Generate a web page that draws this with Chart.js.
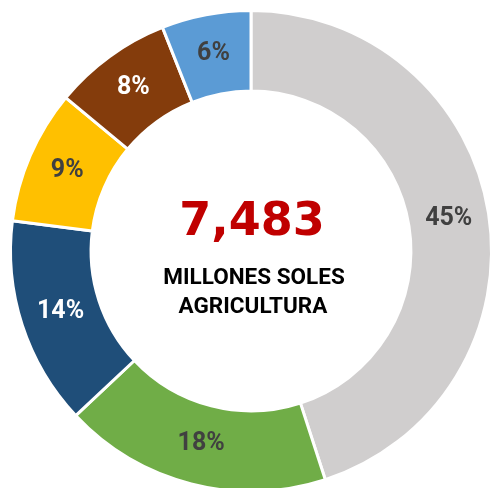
<!DOCTYPE html>
<html>
<head>
<meta charset="utf-8">
<script src="https://cdn.jsdelivr.net/npm/chart.js@4/dist/chart.umd.min.js"></script>
<style>
  html, body { margin: 0; padding: 0; background: #fff; overflow: hidden; }
  #wrap { position: absolute; left: 0; top: 0; width: 502px; height: 502px; }
</style>
</head>
<body>
<div id="wrap"><canvas id="cAgro" width="502" height="502"></canvas></div>
<script>
  // ---- shares of agricultural output (%) ----
  var SHARES = [45, 18, 14, 9, 8, 6];
  var SLICE_COLORS = ["#D0CECE", "#70AD47", "#1F4E79", "#FFC000", "#843C0C", "#5B9BD5"];
  var LABEL_COLORS = ["#404040", "#404040", "#FFFFFF", "#404040", "#FFFFFF", "#404040"];
  var TOTAL = "7,483";
  var CENTER_LINES = ["MILLONES SOLES", "AGRICULTURA"];

  // percent labels in the middle of each ring segment
  var sliceLabels = {
    id: "sliceLabels",
    afterDatasetsDraw: function (chart) {
      var ctx = chart.ctx;
      var meta = chart.getDatasetMeta(0);
      ctx.save();
      ctx.font = "bold 25px Roboto, 'Open Sans', sans-serif";
      ctx.textAlign = "center";
      ctx.textBaseline = "middle";
      meta.data.forEach(function (arc, i) {
        var p = arc.tooltipPosition();
        ctx.fillStyle = LABEL_COLORS[i];
        ctx.fillText(SHARES[i] + "%", p.x, p.y - 1);
      });
      ctx.restore();
    }
  };

  // total in the hole of the doughnut
  var centerText = {
    id: "centerText",
    afterDraw: function (chart) {
      var ctx = chart.ctx;
      var arc = chart.getDatasetMeta(0).data[0];
      var cx = arc.x + 1, cy = arc.y;
      ctx.save();
      ctx.textAlign = "center";
      ctx.textBaseline = "alphabetic";
      ctx.fillStyle = "#C00000";
      ctx.font = "bold 46px 'DejaVu Sans', sans-serif";
      ctx.fillText(TOTAL, cx, cy - 16);
      ctx.fillStyle = "#000000";
      ctx.font = "bold 22.5px Roboto, 'Open Sans', sans-serif";
      ctx.fillText(CENTER_LINES[0], cx + 2, cy + 33);
      ctx.fillText(CENTER_LINES[1], cx + 1, cy + 62);
      ctx.restore();
    }
  };

  new Chart(document.getElementById("cAgro"), {
    type: "doughnut",
    data: {
      labels: SHARES.map(function (v) { return v + "%"; }),
      datasets: [{
        data: SHARES,
        backgroundColor: SLICE_COLORS,
        borderColor: "#FFFFFF",
        borderWidth: 3,
        hoverOffset: 0
      }]
    },
    options: {
      responsive: false,
      animation: false,
      cutout: "66.5%",
      rotation: 0,
      layout: { padding: 9 },
      plugins: { legend: { display: false }, tooltip: { enabled: false } }
    },
    plugins: [sliceLabels, centerText]
  });
</script>
</body>
</html>
